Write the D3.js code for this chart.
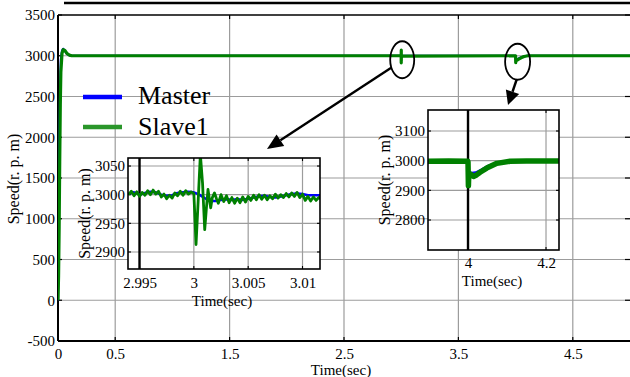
<!DOCTYPE html>
<html>
<head>
<meta charset="utf-8">
<script src="https://cdn.jsdelivr.net/npm/d3@7"></script>
<style>
  body { margin: 0; background: #fff; }
  svg { display: block; }
</style>
</head>
<body>
<svg id="chart" width="630" height="377"></svg>
<script>
// ---- Main plot: speed of master and slave drives over the whole run ----
const mainXTicks = [0, 0.5, 1.5, 2.5, 3.5, 4.5];
const mainYTicks = [-500, 0, 500, 1000, 1500, 2000, 2500, 3000, 3500];
const seriesNames = ["Master", "Slave1"];

// [time (s), speed (rpm)]
const masterMain = [
  [0, 0], [0.005, 700], [0.01, 1500], [0.015, 2200], [0.02, 2700], [0.025, 2950],
  [0.035, 3060], [0.045, 3085], [0.06, 3060], [0.08, 3020], [0.1, 3005], [0.12, 3000],
  [3.0, 3000], [3.0002, 2990], [3.005, 2992], [3.01, 2998],
  [4.0, 3000], [4.0005, 2950], [4.014, 2958], [4.048, 2982], [4.1, 3000], [5, 3000]
];
const slaveMain = [
  [0, 0], [0.005, 300], [0.01, 900], [0.015, 1700], [0.02, 2400], [0.025, 2800],
  [0.035, 3030], [0.045, 3075], [0.06, 3065], [0.08, 3025], [0.1, 3008], [0.12, 3000],
  [3.0, 3000], [3.0002, 2913], [3.0006, 3068], [3.001, 2939], [3.0013, 3009], [3.002, 2990], [3.005, 2995],
  [4.0, 3000], [4.001, 2916], [4.002, 2960], [4.014, 2947], [4.031, 2961], [4.048, 2975],
  [4.074, 2991], [4.108, 3000], [5, 3000]
];

// ---- Inset 1: disturbance at t = 3 s ----
const inset1XTicks = [2.995, 3, 3.005, 3.01];
const inset1YTicks = [2900, 2950, 3000, 3050];
const masterInset1 = [
  [2.994, 3002], [2.9945, 3004], [2.995, 3000], [2.9955, 3003], [2.996, 3005], [2.9965, 3004],
  [2.997, 3000], [2.9975, 2998], [2.998, 2999], [2.9985, 3003], [2.999, 3004], [2.9995, 3005],
  [3.0, 3004], [3.0005, 3000], [3.001, 2994], [3.0015, 2989], [3.002, 2989], [3.0025, 2991],
  [3.003, 2992], [3.0035, 2991], [3.004, 2992], [3.0045, 2991], [3.005, 2993], [3.0055, 2995],
  [3.006, 2997], [3.0065, 2998], [3.007, 2996], [3.0075, 2995], [3.008, 2997], [3.0085, 2999],
  [3.009, 3001], [3.0095, 3002], [3.01, 3001], [3.0105, 2999], [3.011, 2999], [3.0117, 2999]
];
const slaveInset1 = [
  [2.994, 3000], [2.99425, 3006], [2.9945, 2998], [2.99475, 3005], [2.995, 2997], [2.99525, 3004],
  [2.9955, 2999], [2.99575, 3007], [2.996, 3000], [2.99625, 3008], [2.9965, 3001], [2.99675, 3006],
  [2.997, 2996], [2.99725, 3001], [2.9975, 2993], [2.99775, 2999], [2.998, 2994], [2.99825, 3003],
  [2.9985, 2998], [2.99875, 3006], [2.999, 2999], [2.99925, 3007], [2.9995, 3001], [2.99975, 3005],
  [3.0, 3002], [3.0001, 2960], [3.0002, 2913], [3.0004, 2990], [3.0006, 3070], [3.0008, 3020],
  [3.001, 2939], [3.00115, 2975], [3.0013, 3009], [3.00145, 2990], [3.00155, 2977], [3.0017, 2995],
  [3.0019, 3003], [3.0021, 2992], [3.00225, 2985], [3.0025, 3000], [3.00275, 2988], [3.003, 2998],
  [3.00325, 2986], [3.0035, 2995], [3.00375, 2985], [3.004, 2994], [3.00425, 2986], [3.0045, 2996],
  [3.00475, 2987], [3.005, 2997], [3.00525, 2990], [3.0055, 2999], [3.00575, 2991], [3.006, 3000],
  [3.00625, 2992], [3.0065, 2999], [3.00675, 2991], [3.007, 2998], [3.00725, 2993], [3.0075, 3001],
  [3.00775, 2994], [3.008, 3000], [3.00825, 2995], [3.0085, 3002], [3.00875, 2996], [3.009, 3003],
  [3.00925, 2997], [3.0095, 3004], [3.00975, 2995], [3.01, 3001], [3.01025, 2990], [3.0105, 2997],
  [3.01075, 2989], [3.011, 2996], [3.01125, 2990], [3.0115, 2995], [3.0117, 2993]
];

// ---- Inset 2: load step at t = 4 s ----
const inset2XTicks = [4, 4.2];
const inset2YTicks = [2800, 2900, 3000, 3100];
const masterInset2 = [
  [3.897, 3000], [3.9995, 3000], [4.0, 2950], [4.001, 2962], [4.01, 2958], [4.02, 2960],
  [4.035, 2970], [4.05, 2981], [4.075, 2993], [4.1, 2999], [4.234, 3000]
];
const slaveInset2 = [
  [3.897, 2998], [3.95, 2999], [3.9995, 2998], [4.0, 2995], [4.001, 2916], [4.002, 2958],
  [4.006, 2955], [4.014, 2947], [4.022, 2952], [4.031, 2961], [4.048, 2975], [4.074, 2991],
  [4.108, 2998], [4.15, 2999], [4.234, 2999]
];

const colors = { Master: "#0000ff", Slave1: "#008000" };
const gridColor = "#9c9c9c";
const serif = "'Liberation Serif', 'Times New Roman', Tinos, 'DejaVu Serif', serif";

const svg = d3.select("#chart").attr("font-family", serif);
const fmt = d => String(d);

// ---------- main axes ----------
const M = { left: 58, right: 630, top: 15, bottom: 341 };
const x = d3.scaleLinear().domain([0, 5]).range([M.left, M.right]);
const y = d3.scaleLinear().domain([-500, 3500]).range([M.bottom, M.top]);

// rule above the plot
svg.append("line").attr("x1", 64).attr("x2", 630).attr("y1", 3).attr("y2", 3)
  .attr("stroke", "#000").attr("stroke-width", 2.6);

const grid = svg.append("g");
grid.selectAll("line.vx").data(mainXTicks.filter(d => d > 0)).join("line")
  .attr("x1", d => x(d)).attr("x2", d => x(d)).attr("y1", M.top).attr("y2", M.bottom)
  .attr("stroke", gridColor).attr("stroke-width", 1.2);
grid.selectAll("line.hy").data(mainYTicks.filter(d => d > -500 && d < 3500)).join("line")
  .attr("x1", M.left).attr("x2", M.right).attr("y1", d => y(d)).attr("y2", d => y(d))
  .attr("stroke", gridColor).attr("stroke-width", 1.2);

// inward tick marks on the frame
const tk = svg.append("g").attr("stroke", "#000").attr("stroke-width", 1.2);
mainXTicks.filter(d => d > 0).forEach(d => {
  tk.append("line").attr("x1", x(d)).attr("x2", x(d)).attr("y1", M.top).attr("y2", M.top + 4);
  tk.append("line").attr("x1", x(d)).attr("x2", x(d)).attr("y1", M.bottom).attr("y2", M.bottom - 4);
});
mainYTicks.forEach(d => {
  tk.append("line").attr("x1", M.right).attr("x2", M.right - 5).attr("y1", y(d)).attr("y2", y(d));
  tk.append("line").attr("x1", M.left).attr("x2", M.left + 4).attr("y1", y(d)).attr("y2", y(d));
});

// frame
svg.append("line").attr("x1", M.left).attr("x2", M.right).attr("y1", M.top).attr("y2", M.top)
  .attr("stroke", "#000").attr("stroke-width", 1.6);
svg.append("line").attr("x1", M.left).attr("x2", M.right).attr("y1", M.bottom).attr("y2", M.bottom)
  .attr("stroke", "#000").attr("stroke-width", 2);
svg.append("line").attr("x1", M.left).attr("x2", M.left).attr("y1", M.top).attr("y2", M.bottom)
  .attr("stroke", "#000").attr("stroke-width", 2);

function styleAxis(g, size) {
  g.attr("font-family", serif).attr("font-size", size);
  g.select(".domain").remove();
  g.selectAll("text").attr("fill", "#000");
}

svg.append("g").attr("transform", `translate(${M.left},0)`)
  .call(d3.axisLeft(y).tickValues(mainYTicks).tickFormat(fmt).tickSize(0).tickPadding(3))
  .call(g => styleAxis(g, 15));
svg.append("g").attr("transform", `translate(0,${M.bottom})`)
  .call(d3.axisBottom(x).tickValues(mainXTicks).tickFormat(fmt).tickSize(0).tickPadding(7.5))
  .call(g => styleAxis(g, 15));

svg.append("text").attr("x", 341).attr("y", 375).attr("text-anchor", "middle")
  .attr("font-size", 15).text("Time(sec)");
svg.append("text").attr("transform", "translate(13,179) rotate(-90)").attr("dy", "0.35em")
  .attr("text-anchor", "middle").attr("font-size", 16).text("Speed(r. p. m)");

// main curves
svg.append("clipPath").attr("id", "clipMain").append("rect")
  .attr("x", M.left).attr("y", M.top).attr("width", M.right - M.left).attr("height", M.bottom - M.top);
const lineMain = d3.line().x(d => x(d[0])).y(d => y(d[1]));
const gMain = svg.append("g").attr("clip-path", "url(#clipMain)");
gMain.append("path").datum(masterMain).attr("d", lineMain).attr("fill", "none")
  .attr("stroke", colors.Master).attr("stroke-width", 2.2).attr("stroke-linejoin", "round");
gMain.append("path").datum(slaveMain).attr("d", lineMain).attr("fill", "none")
  .attr("stroke", colors.Slave1).attr("stroke-width", 3.2).attr("stroke-linejoin", "round");

// legend
const legend = svg.append("g");
const legendRows = [{ name: seriesNames[0], ly: 97, ty: 104 }, { name: seriesNames[1], ly: 127, ty: 135 }];
legendRows.forEach(r => {
  legend.append("line").attr("x1", 83).attr("x2", 122).attr("y1", r.ly).attr("y2", r.ly)
    .attr("stroke", r.name === "Master" ? colors.Master : "#2a962a").attr("stroke-width", 4.5);
  legend.append("text").attr("x", 138).attr("y", r.ty).attr("font-size", 26).text(r.name);
});

// ---------- zoomed insets ----------
function drawInset(cfg) {
  const { id, box, xDomain, yDomain, xTicks, yTicks, master, slave, markT, xPad, slaveWidth, label } = cfg;
  const ix = d3.scaleLinear().domain(xDomain).range([box.x0, box.x1]);
  const iy = d3.scaleLinear().domain(yDomain).range([box.y1, box.y0]);
  const g = svg.append("g");
  g.append("rect").attr("x", box.x0).attr("y", box.y0).attr("width", box.x1 - box.x0)
    .attr("height", box.y1 - box.y0).attr("fill", "#fff");
  g.selectAll("line.gx").data(xTicks.filter(d => d !== markT)).join("line")
    .attr("x1", d => ix(d)).attr("x2", d => ix(d)).attr("y1", box.y0).attr("y2", box.y1)
    .attr("stroke", gridColor).attr("stroke-width", 1.2);
  g.selectAll("line.gy").data(yTicks).join("line")
    .attr("x1", box.x0).attr("x2", box.x1).attr("y1", d => iy(d)).attr("y2", d => iy(d))
    .attr("stroke", gridColor).attr("stroke-width", 1.2);
  const t = g.append("g").attr("stroke", "#000").attr("stroke-width", 1.1);
  xTicks.forEach(d => {
    t.append("line").attr("x1", ix(d)).attr("x2", ix(d)).attr("y1", box.y0).attr("y2", box.y0 + 3);
    t.append("line").attr("x1", ix(d)).attr("x2", ix(d)).attr("y1", box.y1).attr("y2", box.y1 - 3);
  });
  yTicks.forEach(d => {
    t.append("line").attr("x1", box.x0).attr("x2", box.x0 + 3).attr("y1", iy(d)).attr("y2", iy(d));
    t.append("line").attr("x1", box.x1).attr("x2", box.x1 - 3).attr("y1", iy(d)).attr("y2", iy(d));
  });
  g.append("line").attr("x1", ix(markT)).attr("x2", ix(markT)).attr("y1", box.y0).attr("y2", box.y1)
    .attr("stroke", "#000").attr("stroke-width", 2.4);

  g.append("clipPath").attr("id", id).append("rect")
    .attr("x", box.x0).attr("y", box.y0).attr("width", box.x1 - box.x0).attr("height", box.y1 - box.y0);
  const ln = d3.line().x(d => ix(d[0])).y(d => iy(d[1]));
  const gc = g.append("g").attr("clip-path", `url(#${id})`);
  gc.append("path").datum(master).attr("d", ln).attr("fill", "none")
    .attr("stroke", colors.Master).attr("stroke-width", 2.6).attr("stroke-linejoin", "round");
  gc.append("path").datum(slave).attr("d", ln).attr("fill", "none")
    .attr("stroke", colors.Slave1).attr("stroke-width", slaveWidth).attr("stroke-linejoin", "round");

  g.append("rect").attr("x", box.x0).attr("y", box.y0).attr("width", box.x1 - box.x0)
    .attr("height", box.y1 - box.y0).attr("fill", "none").attr("stroke", "#000").attr("stroke-width", 1.6);

  g.append("g").attr("transform", `translate(${box.x0},0)`)
    .call(d3.axisLeft(iy).tickValues(yTicks).tickFormat(fmt).tickSize(0).tickPadding(3))
    .call(a => styleAxis(a, 15));
  g.append("g").attr("transform", `translate(0,${box.y1})`)
    .call(d3.axisBottom(ix).tickValues(xTicks).tickFormat(fmt).tickSize(0).tickPadding(xPad))
    .call(a => styleAxis(a, 15));
  g.append("text").attr("x", label.tx).attr("y", label.ty).attr("text-anchor", "middle")
    .attr("font-size", 15).text("Time(sec)");
  g.append("text").attr("transform", `translate(${label.sx},${(box.y0 + box.y1) / 2}) rotate(-90)`)
    .attr("dy", "0.35em").attr("text-anchor", "middle").attr("font-size", 16).text("Speed(r. p. m)");
}

drawInset({
  id: "clipInset1", box: { x0: 128, x1: 320, y0: 158, y1: 269 },
  xDomain: [2.99394, 3.01161], yDomain: [2870.3, 3064],
  xTicks: inset1XTicks, yTicks: inset1YTicks, master: masterInset1, slave: slaveInset1,
  markT: 2.995, xPad: 8, slaveWidth: 2.8, label: { tx: 222, ty: 306, sx: 84 }
});
drawInset({
  id: "clipInset2", box: { x0: 428, x1: 559, y0: 110, y1: 250 },
  xDomain: [3.8974, 4.2333], yDomain: [2698.9, 3170.8],
  xTicks: inset2XTicks, yTicks: inset2YTicks, master: masterInset2, slave: slaveInset2,
  markT: 4, xPad: 7, slaveWidth: 5.5, label: { tx: 492, ty: 286, sx: 384 }
});

// ---------- callouts: ellipses around the events and arrows to the insets ----------
const ann = svg.append("g").attr("stroke", "#000").attr("fill", "none").attr("stroke-width", 1.8);
const e1 = { cx: x(3.0) + 1, cy: y(3000) + 4, rx: 12, ry: 18.5 };
const e2 = { cx: x(4.0) + 2, cy: y(3000) + 6, rx: 12.5, ry: 18 };
[e1, e2].forEach(e => ann.append("ellipse").attr("cx", e.cx).attr("cy", e.cy).attr("rx", e.rx).attr("ry", e.ry));

function arrow(x1, y1, x2, y2, len, half) {
  const a = Math.atan2(y2 - y1, x2 - x1);
  const bx = x2 - len * Math.cos(a), by = y2 - len * Math.sin(a);
  svg.append("line").attr("x1", x1).attr("y1", y1).attr("x2", bx).attr("y2", by)
    .attr("stroke", "#000").attr("stroke-width", 2.4);
  const px = -Math.sin(a) * half, py = Math.cos(a) * half;
  svg.append("path")
    .attr("d", `M${x2},${y2}L${bx + px},${by + py}L${bx - px},${by - py}Z`).attr("fill", "#000");
}
arrow(e1.cx - 11, e1.cy + 8, 267, 149, 16, 7);
arrow(e2.cx - 1, e2.cy + e2.ry, 508, 105, 14, 7);
</script>
</body>
</html>
